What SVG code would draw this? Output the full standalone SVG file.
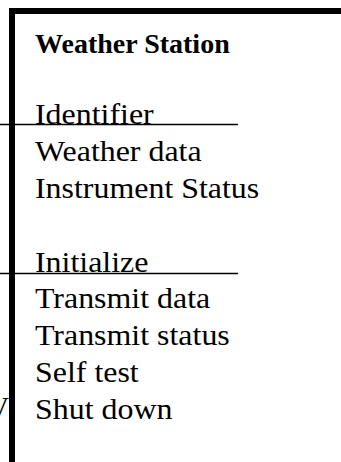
<svg xmlns="http://www.w3.org/2000/svg" width="341" height="462" viewBox="0 0 341 462">
<style>
.t{font-family:"Liberation Serif","Times New Roman",serif;font-size:28.5px;fill:#000}
.b{font-weight:bold;font-size:28px}
.sep{stroke:#000;stroke-width:1.5}
</style>
<rect x="0" y="0" width="341" height="462" fill="#fff"/>
<g id="clipped-left">
<text class="t" x="9" y="417" text-anchor="end">V</text>
</g>
<g id="weather-station">
<rect x="12" y="11" width="400" height="500" fill="none" stroke="#000" stroke-width="6"/>
<text class="t b" x="35" y="53">Weather Station</text>
<g transform="translate(35,0) scale(1.12,1) translate(-35,0)">
<text class="t" x="35" y="124">Identifier</text>
<text class="t" x="35" y="161">Weather data</text>
<text class="t" x="35" y="198">Instrument Status</text>
<text class="t" x="35" y="272">Initialize</text>
<text class="t" x="35" y="308">Transmit data</text>
<text class="t" x="35" y="345">Transmit status</text>
<text class="t" x="35" y="382">Self test</text>
<text class="t" x="35" y="419">Shut down</text>
</g>
</g>
<g id="connectors">
<line class="sep" x1="0" y1="124.5" x2="238" y2="124.5"/>
<line class="sep" x1="0" y1="273.5" x2="238" y2="273.5"/>
</g>
</svg>
